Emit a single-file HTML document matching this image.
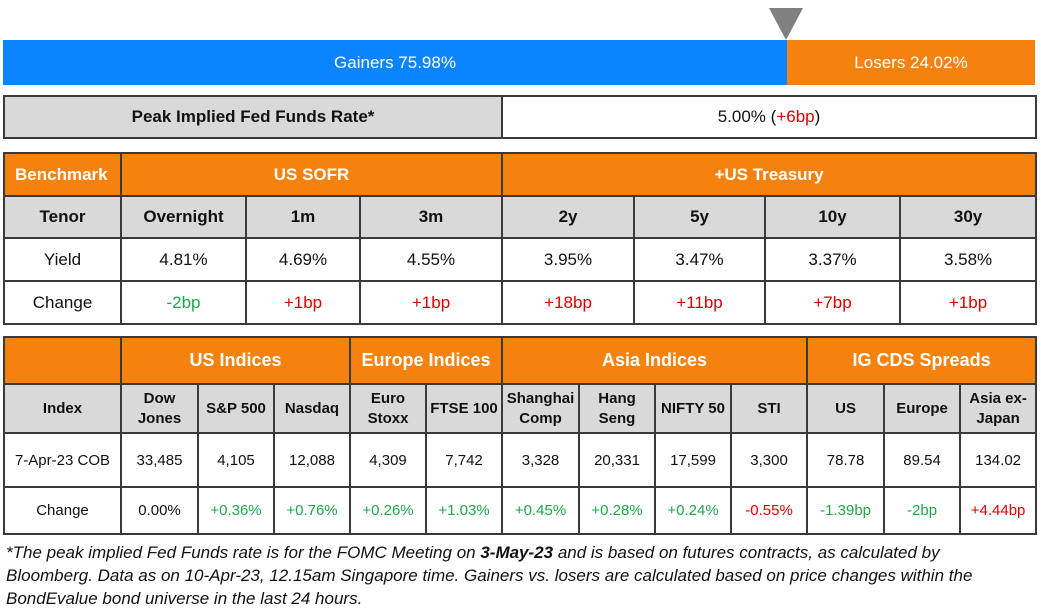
<!DOCTYPE html>
<html><head><meta charset="utf-8"><style>
body{margin:0;width:1041px;height:607px;background:#fff;position:relative;font-family:"Liberation Sans",sans-serif;overflow:hidden}
.a{position:absolute}
table{position:absolute;border-collapse:collapse;table-layout:fixed}
td{border:2px solid #3a3a3a;text-align:center;padding:0;font-size:16px;color:#111;overflow:hidden;white-space:nowrap}
.o{background:#F5820D;color:#fff;font-weight:bold;font-size:17px}
.g{background:#D9D9D9;font-weight:bold;font-size:16px}
.gr{color:#1FA74A}.rd{color:#E00000}
.sm td{font-size:15px}
.sm td.g{font-size:15px;line-height:20px}
.sm td.o{font-size:18px}
</style></head><body>
<div class="a" style="left:769px;top:8px;width:0;height:0;border-left:17px solid transparent;border-right:17px solid transparent;border-top:32px solid #808080"></div>
<div class="a" style="left:3px;top:40px;width:784px;height:45px;background:#0A84FF;color:#fff;font-size:17px;line-height:45px;text-align:center">Gainers 75.98%</div>
<div class="a" style="left:787px;top:40px;width:248px;height:45px;background:#F5820D;color:#fff;font-size:17px;line-height:45px;text-align:center">Losers 24.02%</div>

<table style="left:3px;top:95px;width:1032px;height:44px">
<colgroup><col style="width:498px"><col style="width:534px"></colgroup>
<tr><td class="g" style="font-size:17px">Peak Implied Fed Funds Rate*</td><td style="font-size:17px">5.00% (<span class="rd">+6bp</span>)</td></tr>
</table>

<table style="left:3px;top:152px;width:1032px;height:171px">
<colgroup><col style="width:117px"><col style="width:125px"><col style="width:114px"><col style="width:142px"><col style="width:132px"><col style="width:131px"><col style="width:135px"><col style="width:136px"></colgroup>
<tr style="height:43px"><td class="o" style="text-align:left;padding-left:10px">Benchmark</td><td class="o" colspan="3">US SOFR</td><td class="o" colspan="4">+US Treasury</td></tr>
<tr style="height:42px"><td class="g" style="font-size:17px">Tenor</td><td class="g" style="font-size:17px">Overnight</td><td class="g" style="font-size:17px">1m</td><td class="g" style="font-size:17px">3m</td><td class="g" style="font-size:17px">2y</td><td class="g" style="font-size:17px">5y</td><td class="g" style="font-size:17px">10y</td><td class="g" style="font-size:17px">30y</td></tr>
<tr style="height:43px"><td style="font-size:17px">Yield</td><td style="font-size:17px">4.81%</td><td style="font-size:17px">4.69%</td><td style="font-size:17px">4.55%</td><td style="font-size:17px">3.95%</td><td style="font-size:17px">3.47%</td><td style="font-size:17px">3.37%</td><td style="font-size:17px">3.58%</td></tr>
<tr style="height:43px"><td style="font-size:17px">Change</td><td class="gr" style="font-size:17px">-2bp</td><td class="rd" style="font-size:17px">+1bp</td><td class="rd" style="font-size:17px">+1bp</td><td class="rd" style="font-size:17px">+18bp</td><td class="rd" style="font-size:17px">+11bp</td><td class="rd" style="font-size:17px">+7bp</td><td class="rd" style="font-size:17px">+1bp</td></tr>
</table>

<table class="sm" style="left:3px;top:336px;width:1032px;height:198px">
<colgroup><col style="width:117px"><col style="width:77px"><col style="width:76px"><col style="width:76px"><col style="width:76px"><col style="width:76px"><col style="width:77px"><col style="width:76px"><col style="width:76px"><col style="width:76px"><col style="width:77px"><col style="width:76px"><col style="width:76px"></colgroup>
<tr style="height:47px"><td class="o"></td><td class="o" colspan="3">US Indices</td><td class="o" colspan="2">Europe Indices</td><td class="o" colspan="4">Asia Indices</td><td class="o" colspan="3">IG CDS Spreads</td></tr>
<tr style="height:49px"><td class="g">Index</td><td class="g">Dow<br>Jones</td><td class="g">S&amp;P 500</td><td class="g">Nasdaq</td><td class="g">Euro<br>Stoxx</td><td class="g">FTSE 100</td><td class="g">Shanghai<br>Comp</td><td class="g">Hang<br>Seng</td><td class="g">NIFTY 50</td><td class="g">STI</td><td class="g">US</td><td class="g">Europe</td><td class="g">Asia ex-<br>Japan</td></tr>
<tr style="height:54px"><td>7-Apr-23 COB</td><td>33,485</td><td>4,105</td><td>12,088</td><td>4,309</td><td>7,742</td><td>3,328</td><td>20,331</td><td>17,599</td><td>3,300</td><td>78.78</td><td>89.54</td><td>134.02</td></tr>
<tr style="height:47px"><td>Change</td><td>0.00%</td><td class="gr">+0.36%</td><td class="gr">+0.76%</td><td class="gr">+0.26%</td><td class="gr">+1.03%</td><td class="gr">+0.45%</td><td class="gr">+0.28%</td><td class="gr">+0.24%</td><td class="rd">-0.55%</td><td class="gr">-1.39bp</td><td class="gr">-2bp</td><td class="rd">+4.44bp</td></tr>
</table>

<div class="a" style="left:6px;top:541px;width:1035px;font-size:17px;font-style:italic;line-height:23px;color:#111;white-space:nowrap">*The peak implied Fed Funds rate is for the FOMC Meeting on <b>3-May-23</b> and is based on futures contracts, as calculated by<br>Bloomberg. Data as on 10-Apr-23, 12.15am Singapore time. Gainers vs. losers are calculated based on price changes within the<br>BondEvalue bond universe in the last 24 hours.</div>
</body></html>
